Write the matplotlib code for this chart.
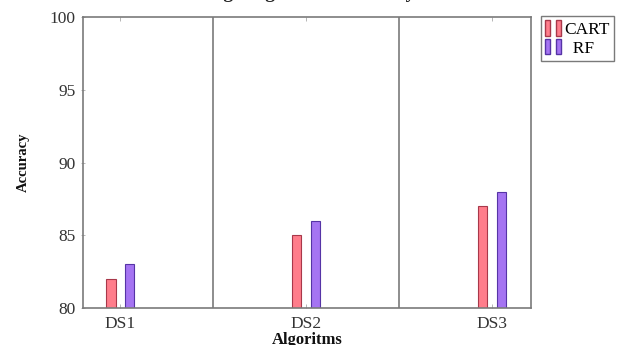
import matplotlib

matplotlib.use("Agg")

import matplotlib.pyplot as plt
import numpy as np
from matplotlib.legend_handler import HandlerTuple
from matplotlib.patches import Patch

datasets = ["DS1", "DS2", "DS3"]
cart_acc = [82, 85, 87]
rf_acc = [83, 86, 88]

plt.rcParams["font.family"] = ["Liberation Serif", "DejaVu Serif"]

cart_fill, cart_edge = "#ff7d8b", "#a8384a"
rf_fill, rf_edge = "#a574f2", "#5634a6"
frame = "#7a7a7a"
text_col = "#333333"

fig = plt.figure(figsize=(6.26, 3.45), dpi=100)
ax = fig.add_axes([0.1326, 0.1072, 0.7155, 0.8435])

x = np.arange(1, len(datasets) + 1)
w = 0.05
ax.bar(x - 0.05, cart_acc, width=w, color=cart_fill, edgecolor=cart_edge, linewidth=0.8)
ax.bar(x + 0.05, rf_acc, width=w, color=rf_fill, edgecolor=rf_edge, linewidth=0.8)

# group separators
for sep in (1.5, 2.5):
    ax.axvline(sep, color=frame, linewidth=1.2)

ax.set_xlim(0.8, 3.21)
ax.set_ylim(80, 100)
ax.set_yticks([80, 85, 90, 95, 100])
ax.set_xticks(x)
ax.set_xticklabels(datasets)
ax.tick_params(axis="both", labelsize=12.5, colors=text_col, length=3, width=0.6)
ax.tick_params(axis="x", direction="in", top=True, color="#aaaaaa", pad=6)
ax.tick_params(axis="y", direction="inout", color="#aaaaaa", pad=4)
for s in ax.spines.values():
    s.set_color(frame)
    s.set_linewidth(1.2)

ax.set_xlabel("Algoritms", fontsize=12, fontweight="bold", labelpad=0, color="#111111")
ax.set_ylabel("Accuracy", fontsize=10.5, fontweight="bold", labelpad=14, color="#111111")

# title sits above the canvas, only its descenders reach the top edge
fig.text(0.47, 1 + 2.5 / 345, "Average Algorithm Accuracy", ha="center", va="baseline",
         fontsize=14, fontweight="bold", color="#222222")

handles = [
    (Patch(facecolor=cart_fill, edgecolor=cart_edge), Patch(facecolor=cart_fill, edgecolor=cart_edge)),
    (Patch(facecolor=rf_fill, edgecolor=rf_edge), Patch(facecolor=rf_fill, edgecolor=rf_edge)),
]
leg = fig.legend(handles, ["CART", "  RF"], handler_map={tuple: HandlerTuple(ndivide=None, pad=0.4)},
                 loc="upper left", bbox_to_anchor=(0.864, 0.954), fontsize=12.5,
                 handlelength=0.9, handleheight=1.0, handletextpad=0.2, labelspacing=0.05,
                 borderpad=0.25, borderaxespad=0, fancybox=False, framealpha=1)
leg.get_frame().set_edgecolor(frame)
leg.get_frame().set_linewidth(1.0)

fig.savefig("out.png", dpi=100)
